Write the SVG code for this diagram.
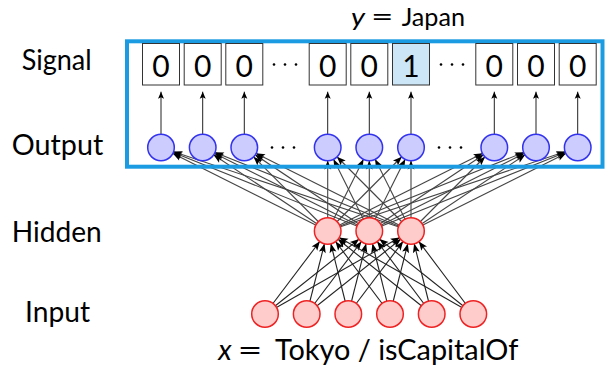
<svg xmlns="http://www.w3.org/2000/svg" width="605" height="368" viewBox="0 0 605 368">
  <style>
    text { font-family: "Lato", "Open Sans", "Liberation Sans", sans-serif; fill: #000; }
    .lbl { font-size: 29px; }
    .top { font-size: 25px; }
    .it { font-style: italic; }
    .dig { font-size: 30px; text-anchor: middle; }
    .box { fill: #fff; stroke: #333; stroke-width: 1; }
    .hot { fill: #cce6f7; }
    .out { fill: #ccccff; stroke: #3333ee; stroke-width: 1.5; }
    .red { fill: #ffcccc; stroke: #ee2222; stroke-width: 1.5; }
    .e1 line { stroke: #444; stroke-width: 1.1; marker-end: url(#ah); }
    .e2 line { stroke: #222; stroke-width: 1.1; marker-end: url(#ah); }
    .up line { stroke: #222; stroke-width: 1; marker-end: url(#tip); }
    .dots { fill: #000; }
  </style>
  <defs>
    <!-- arrowhead whose point lands on the rim of a 13.5 radius circle -->
    <marker id="ah" markerUnits="userSpaceOnUse" markerWidth="40" markerHeight="10" refX="22" refY="3.5" orient="auto" overflow="visible">
      <path d="M0,0 L9,3.5 L0,7 L2,3.5 z" fill="#000"/>
    </marker>
    <marker id="tip" markerUnits="userSpaceOnUse" markerWidth="10" markerHeight="10" refX="7" refY="3" orient="auto" overflow="visible">
      <path d="M0,0 L7,3 L0,6 L1.5,3 z" fill="#000"/>
    </marker>
  </defs>

  <!-- row labels -->
  <g id="labels">
    <text class="lbl" x="21.7" y="69.5" textLength="70" lengthAdjust="spacingAndGlyphs">Signal</text>
    <text class="lbl" x="11.7" y="155" textLength="91.6" lengthAdjust="spacingAndGlyphs">Output</text>
    <text class="lbl" x="11.7" y="241.7" textLength="90" lengthAdjust="spacingAndGlyphs">Hidden</text>
    <text class="lbl" x="25" y="321.7" textLength="65" lengthAdjust="spacingAndGlyphs">Input</text>
  </g>
  <g id="target">
    <text class="top it" x="351" y="26" textLength="14" lengthAdjust="spacingAndGlyphs">y</text>
    <text class="top" x="371" y="26" textLength="22.5" lengthAdjust="spacingAndGlyphs">=</text>
    <text class="top" x="401.7" y="26" textLength="63.3" lengthAdjust="spacingAndGlyphs">Japan</text>
  </g>
  <g id="query">
    <text class="lbl it" x="218.3" y="360" textLength="13.4" lengthAdjust="spacingAndGlyphs">x</text>
    <text class="lbl" x="237.5" y="360" textLength="25" lengthAdjust="spacingAndGlyphs">=</text>
    <text class="lbl" x="275" y="360" textLength="243.3" lengthAdjust="spacingAndGlyphs">Tokyo / isCapitalOf</text>
  </g>

  <!-- connectors -->
  <g id="connectors">
    <g class="e2">
      <line x1="265" y1="314" x2="327.7" y2="231"/>
      <line x1="265" y1="314" x2="369.3" y2="231"/>
      <line x1="265" y1="314" x2="411" y2="231"/>
      <line x1="306.7" y1="314" x2="327.7" y2="231"/>
      <line x1="306.7" y1="314" x2="369.3" y2="231"/>
      <line x1="306.7" y1="314" x2="411" y2="231"/>
      <line x1="348.3" y1="314" x2="327.7" y2="231"/>
      <line x1="348.3" y1="314" x2="369.3" y2="231"/>
      <line x1="348.3" y1="314" x2="411" y2="231"/>
      <line x1="390" y1="314" x2="327.7" y2="231"/>
      <line x1="390" y1="314" x2="369.3" y2="231"/>
      <line x1="390" y1="314" x2="411" y2="231"/>
      <line x1="431.7" y1="314" x2="327.7" y2="231"/>
      <line x1="431.7" y1="314" x2="369.3" y2="231"/>
      <line x1="431.7" y1="314" x2="411" y2="231"/>
      <line x1="473.3" y1="314" x2="327.7" y2="231"/>
      <line x1="473.3" y1="314" x2="369.3" y2="231"/>
      <line x1="473.3" y1="314" x2="411" y2="231"/>
    </g>
    <g class="e1">
      <line x1="327.7" y1="231" x2="161" y2="147.5"/>
      <line x1="369.3" y1="231" x2="161" y2="147.5"/>
      <line x1="411" y1="231" x2="161" y2="147.5"/>
      <line x1="327.7" y1="231" x2="202.7" y2="147.5"/>
      <line x1="369.3" y1="231" x2="202.7" y2="147.5"/>
      <line x1="411" y1="231" x2="202.7" y2="147.5"/>
      <line x1="327.7" y1="231" x2="244.3" y2="147.5"/>
      <line x1="369.3" y1="231" x2="244.3" y2="147.5"/>
      <line x1="411" y1="231" x2="244.3" y2="147.5"/>
      <line x1="327.7" y1="231" x2="327.7" y2="147.5"/>
      <line x1="369.3" y1="231" x2="327.7" y2="147.5"/>
      <line x1="411" y1="231" x2="327.7" y2="147.5"/>
      <line x1="327.7" y1="231" x2="369.3" y2="147.5"/>
      <line x1="369.3" y1="231" x2="369.3" y2="147.5"/>
      <line x1="411" y1="231" x2="369.3" y2="147.5"/>
      <line x1="327.7" y1="231" x2="411" y2="147.5"/>
      <line x1="369.3" y1="231" x2="411" y2="147.5"/>
      <line x1="411" y1="231" x2="411" y2="147.5"/>
      <line x1="327.7" y1="231" x2="494.3" y2="147.5"/>
      <line x1="369.3" y1="231" x2="494.3" y2="147.5"/>
      <line x1="411" y1="231" x2="494.3" y2="147.5"/>
      <line x1="327.7" y1="231" x2="536" y2="147.5"/>
      <line x1="369.3" y1="231" x2="536" y2="147.5"/>
      <line x1="411" y1="231" x2="536" y2="147.5"/>
      <line x1="327.7" y1="231" x2="577.7" y2="147.5"/>
      <line x1="369.3" y1="231" x2="577.7" y2="147.5"/>
      <line x1="411" y1="231" x2="577.7" y2="147.5"/>
    </g>
    <g class="up">
      <line x1="161" y1="134" x2="161" y2="91.7"/>
      <line x1="202.7" y1="134" x2="202.7" y2="91.7"/>
      <line x1="244.3" y1="134" x2="244.3" y2="91.7"/>
      <line x1="327.7" y1="134" x2="327.7" y2="91.7"/>
      <line x1="369.3" y1="134" x2="369.3" y2="91.7"/>
      <line x1="411" y1="134" x2="411" y2="91.7"/>
      <line x1="494.3" y1="134" x2="494.3" y2="91.7"/>
      <line x1="536" y1="134" x2="536" y2="91.7"/>
      <line x1="577.7" y1="134" x2="577.7" y2="91.7"/>
    </g>
  </g>

  <!-- frame around output and signal rows -->
  <rect id="frame" x="127" y="41.3" width="475.5" height="125.4" fill="none" stroke="#1b9ce2" stroke-width="4"/>

  <!-- signal cells -->
  <g id="signal">
    <g id="s1"><rect class="box" x="142.5" y="43.5" width="37" height="41.5"/><text class="dig" x="161" y="76.5">0</text></g>
    <g id="s2"><rect class="box" x="184.2" y="43.5" width="37" height="41.5"/><text class="dig" x="202.7" y="76.5">0</text></g>
    <g id="s3"><rect class="box" x="225.8" y="43.5" width="37" height="41.5"/><text class="dig" x="244.3" y="76.5">0</text></g>
    <g id="s4"><rect class="box" x="309.2" y="43.5" width="37" height="41.5"/><text class="dig" x="327.7" y="76.5">0</text></g>
    <g id="s5"><rect class="box" x="350.8" y="43.5" width="37" height="41.5"/><text class="dig" x="369.3" y="76.5">0</text></g>
    <g id="s6"><rect class="box hot" x="392.5" y="43.5" width="37" height="41.5"/><text class="dig" x="411" y="76.5">1</text></g>
    <g id="s7"><rect class="box" x="475.8" y="43.5" width="37" height="41.5"/><text class="dig" x="494.3" y="76.5">0</text></g>
    <g id="s8"><rect class="box" x="517.5" y="43.5" width="37" height="41.5"/><text class="dig" x="536" y="76.5">0</text></g>
    <g id="s9"><rect class="box" x="559.2" y="43.5" width="37" height="41.5"/><text class="dig" x="577.7" y="76.5">0</text></g>
    <g class="dots">
      <circle cx="274" cy="64.5" r="1.3"/><circle cx="285" cy="64.5" r="1.3"/><circle cx="296" cy="64.5" r="1.3"/>
      <circle cx="441" cy="64.5" r="1.3"/><circle cx="452" cy="64.5" r="1.3"/><circle cx="463" cy="64.5" r="1.3"/>
    </g>
  </g>

  <!-- output units -->
  <g id="output">
    <circle id="o1" class="out" cx="161" cy="147.5" r="13.3"/>
    <circle id="o2" class="out" cx="202.7" cy="147.5" r="13.3"/>
    <circle id="o3" class="out" cx="244.3" cy="147.5" r="13.3"/>
    <circle id="o4" class="out" cx="327.7" cy="147.5" r="13.3"/>
    <circle id="o5" class="out" cx="369.3" cy="147.5" r="13.3"/>
    <circle id="o6" class="out" cx="411" cy="147.5" r="13.3"/>
    <circle id="o7" class="out" cx="494.3" cy="147.5" r="13.3"/>
    <circle id="o8" class="out" cx="536" cy="147.5" r="13.3"/>
    <circle id="o9" class="out" cx="577.7" cy="147.5" r="13.3"/>
    <g class="dots">
      <circle cx="272" cy="147.5" r="1.3"/><circle cx="283" cy="147.5" r="1.3"/><circle cx="294" cy="147.5" r="1.3"/>
      <circle cx="439" cy="147.5" r="1.3"/><circle cx="450" cy="147.5" r="1.3"/><circle cx="461" cy="147.5" r="1.3"/>
    </g>
  </g>

  <!-- hidden units -->
  <g id="hidden">
    <circle id="h1" class="red" cx="327.7" cy="231" r="13.3"/>
    <circle id="h2" class="red" cx="369.3" cy="231" r="13.3"/>
    <circle id="h3" class="red" cx="411" cy="231" r="13.3"/>
  </g>

  <!-- input units -->
  <g id="input">
    <circle id="i1" class="red" cx="265" cy="314" r="13.3"/>
    <circle id="i2" class="red" cx="306.7" cy="314" r="13.3"/>
    <circle id="i3" class="red" cx="348.3" cy="314" r="13.3"/>
    <circle id="i4" class="red" cx="390" cy="314" r="13.3"/>
    <circle id="i5" class="red" cx="431.7" cy="314" r="13.3"/>
    <circle id="i6" class="red" cx="473.3" cy="314" r="13.3"/>
  </g>
</svg>
